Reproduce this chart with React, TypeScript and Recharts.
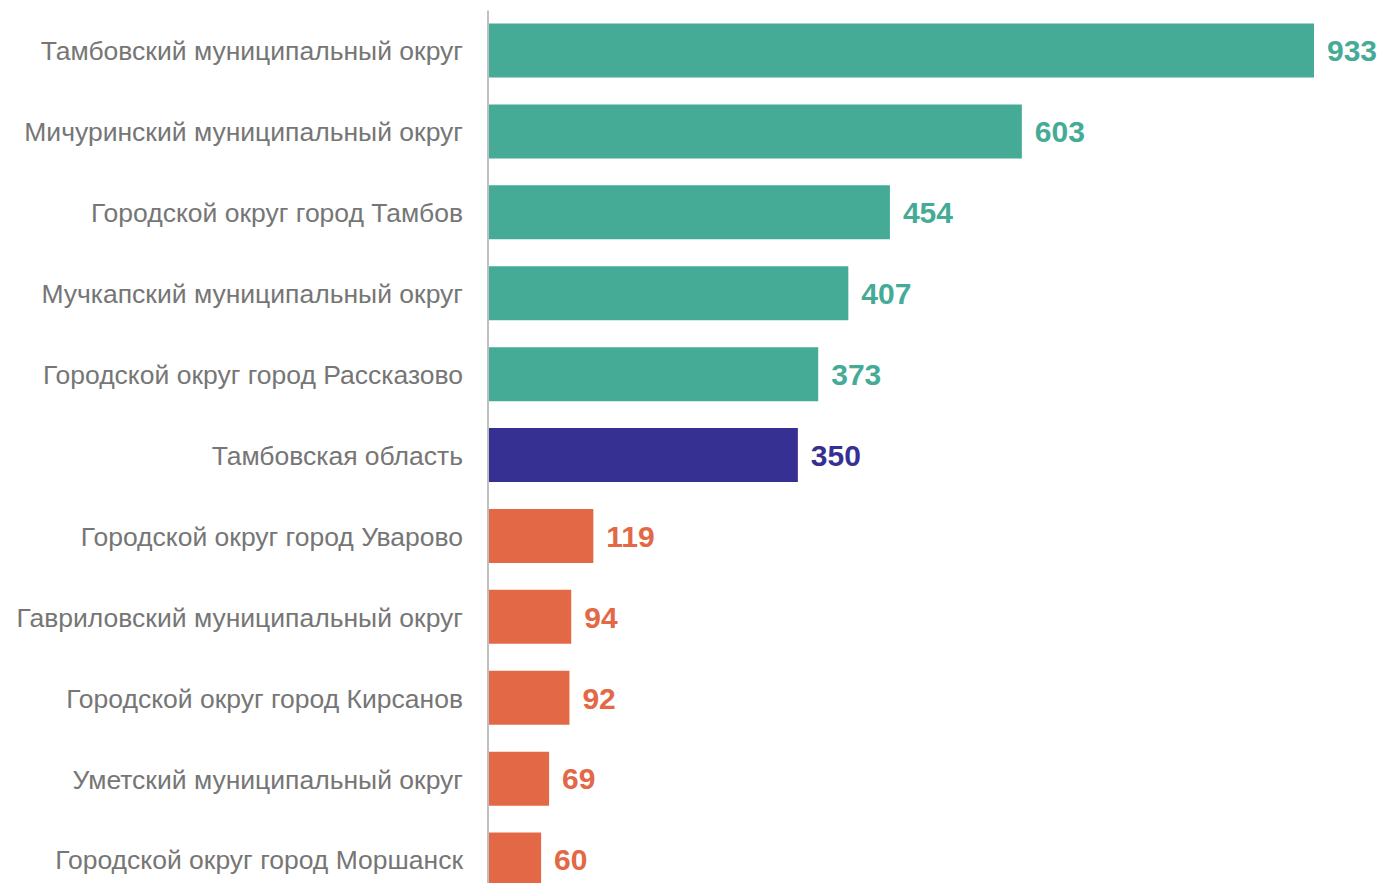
import React from "react";
import { BarChart, Bar, XAxis, YAxis, Cell, LabelList } from "recharts";

const categories = [
  "Тамбовский муниципальный округ",
  "Мичуринский муниципальный округ",
  "Городской округ город Тамбов",
  "Мучкапский муниципальный округ",
  "Городской округ город Рассказово",
  "Тамбовская область",
  "Городской округ город Уварово",
  "Гавриловский муниципальный округ",
  "Городской округ город Кирсанов",
  "Уметский муниципальный округ",
  "Городской округ город Моршанск",
];
const values = [933, 603, 454, 407, 373, 350, 119, 94, 92, 69, 60];
const groups = ["high", "high", "high", "high", "high", "region", "low", "low", "low", "low", "low"];

const colorOf: Record<string, string> = {
  high: "#45AB97",
  region: "#373093",
  low: "#E36846",
};

const data = categories.map((name, i) => ({ name, value: values[i], group: groups[i] }));

const ValueLabel = (props: any) => {
  const { x, y, width, height, value, index } = props;
  const color = colorOf[groups[index]];
  return (
    <text
      x={x + width + 13}
      y={y + height / 2}
      dy="0.36em"
      fill={color}
      fontSize={30}
      fontWeight="bold"
      fontFamily="Liberation Sans, Arial, sans-serif"
    >
      {value}
    </text>
  );
};

export default function App() {
  return (
    <div style={{ width: 1370, height: 875, overflow: "visible" }}>
      <BarChart
        width={1370}
        height={894}
        data={data}
        layout="vertical"
        margin={{ top: 2.5, right: 64, bottom: 1.5, left: 0 }}
        barSize={54}
      >
        <XAxis type="number" domain={[0, 933]} hide />
        <YAxis
          type="category"
          dataKey="name"
          width={480}
          tickLine={false}
          tickSize={0}
          tickMargin={25}
          axisLine={{ stroke: "#BFBFBF", strokeWidth: 2 }}
          tick={{ fill: "#767676", fontSize: 26.5, fontFamily: "Liberation Sans, Arial, sans-serif" }}
          interval={0}
        />
        <Bar dataKey="value" isAnimationActive={false}>
          {data.map((d, i) => (
            <Cell key={i} fill={colorOf[d.group]} />
          ))}
          <LabelList dataKey="value" content={<ValueLabel />} />
        </Bar>
      </BarChart>
    </div>
  );
}
